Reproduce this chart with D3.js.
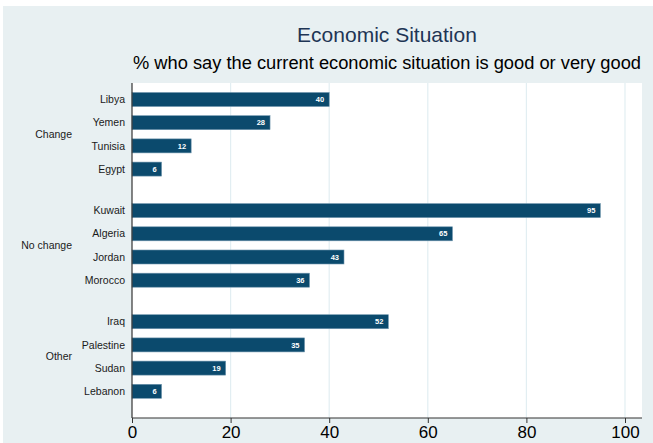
<!DOCTYPE html>
<html>
<head>
<meta charset="utf-8">
<script src="https://cdn.jsdelivr.net/npm/d3@7"></script>
<style>
	body { margin: 0; background: #fff; }
	svg { display: block; font-family: "Liberation Sans", Arial, Helvetica, sans-serif; }
</style>
</head>
<body>
<div id="chart"></div>
<script>
	'use strict';

	// data
	var groups = ['Change', 'No change', 'Other'];
	var countries = [
		['Libya', 'Yemen', 'Tunisia', 'Egypt'],
		['Kuwait', 'Algeria', 'Jordan', 'Morocco'],
		['Iraq', 'Palestine', 'Sudan', 'Lebanon']
	];
	var values = [
		[40, 28, 12, 6],
		[95, 65, 43, 36],
		[52, 35, 19, 6]
	];
	var xTicks = [0, 20, 40, 60, 80, 100];

	var width = 653, height = 443;
	var margin = {top: 83, right: 11, bottom: 25, left: 132};
	var groupGap = 0.79; // extra slots between groups

	var svg = d3.select('#chart')
		.append('svg')
		.attr('width', width)
		.attr('height', height);

	// background
	svg.append('rect')
		.attr('x', 3).attr('y', 6)
		.attr('width', width - 3).attr('height', height - 6)
		.attr('fill', '#e8f0f2');

	var plotW = width - margin.left - margin.right,
		plotH = height - margin.top - margin.bottom;

	svg.append('rect')
		.attr('x', margin.left).attr('y', margin.top)
		.attr('width', plotW).attr('height', plotH)
		.attr('fill', '#fff');

	// flatten rows
	var rows = [];
	countries.forEach(function(list, g) {
		list.forEach(function(name, i) {
			rows.push({group: g, name: name, value: values[g][i], slot: g * (4 + groupGap) + i});
		});
	});
	var lastSlot = rows[rows.length - 1].slot;

	var x = d3.scaleLinear()
		.domain([0, 100])
		.range([margin.left, 625]);

	var y = d3.scaleLinear()
		.domain([0, lastSlot])
		.range([99.5, 391.3]);

	var barH = 14;

	// gridlines
	svg.selectAll('line.grid')
		.data(xTicks.slice(1)).enter()
		.append('line')
			.attr('class', 'grid')
			.attr('x1', function(d) { return x(d); })
			.attr('x2', function(d) { return x(d); })
			.attr('y1', margin.top)
			.attr('y2', margin.top + plotH)
			.attr('stroke', '#e2eef2')
			.attr('stroke-width', 1.2);

	// bars
	svg.selectAll('rect.bar')
		.data(rows).enter()
		.append('rect')
			.attr('class', 'bar')
			.attr('x', x(0))
			.attr('y', function(d) { return y(d.slot) - barH / 2; })
			.attr('width', function(d) { return x(d.value) - x(0); })
			.attr('height', barH)
			.attr('fill', '#0b4a6d')
			.attr('stroke', '#6f95ad')
			.attr('stroke-width', 0.6);

	// value labels
	svg.selectAll('text.val')
		.data(rows).enter()
		.append('text')
			.attr('class', 'val')
			.attr('x', function(d) { return x(d.value) - 5; })
			.attr('y', function(d) { return y(d.slot); })
			.attr('dy', '0.35em')
			.attr('text-anchor', 'end')
			.attr('font-size', 7.5)
			.attr('font-weight', 'bold')
			.attr('fill', '#fff')
			.text(function(d) { return d.value; });

	// country labels
	svg.selectAll('text.cat')
		.data(rows).enter()
		.append('text')
			.attr('class', 'cat')
			.attr('x', 125)
			.attr('y', function(d) { return y(d.slot); })
			.attr('dy', '0.35em')
			.attr('text-anchor', 'end')
			.attr('font-size', 10.5)
			.attr('fill', '#1a1a1a')
			.text(function(d) { return d.name; });

	// group labels
	svg.selectAll('text.grp')
		.data(groups).enter()
		.append('text')
			.attr('class', 'grp')
			.attr('x', 72)
			.attr('y', function(d, g) { return y(g * (4 + groupGap) + 1.5); })
			.attr('dy', '0.35em')
			.attr('text-anchor', 'end')
			.attr('font-size', 10.5)
			.attr('fill', '#1a1a1a')
			.text(function(d) { return d; });

	// axes
	var xAxis = svg.append('g')
		.attr('transform', 'translate(0,' + (margin.top + plotH) + ')')
		.call(d3.axisBottom(x).tickValues(xTicks).tickSize(5).tickPadding(3).tickSizeOuter(0));
	xAxis.select('.domain').remove();
	xAxis.append('line')
		.attr('x1', margin.left).attr('x2', margin.left + plotW)
		.attr('stroke', '#333').attr('stroke-width', 1.2);
	xAxis.selectAll('.tick line').attr('stroke', '#333');
	xAxis.selectAll('.tick text')
		.attr('font-size', 17)
		.attr('font-family', '"Liberation Sans", Arial, sans-serif')
		.attr('fill', '#000');

	svg.append('line')
		.attr('x1', margin.left).attr('x2', margin.left)
		.attr('y1', margin.top).attr('y2', margin.top + plotH)
		.attr('stroke', '#333').attr('stroke-width', 1.2);

	// titles
	var cx = margin.left + plotW / 2;
	svg.append('text')
		.attr('x', cx).attr('y', 42)
		.attr('text-anchor', 'middle')
		.attr('font-size', 21)
		.attr('fill', '#1e3555')
		.text('Economic Situation');

	svg.append('text')
		.attr('x', cx).attr('y', 68.5)
		.attr('text-anchor', 'middle')
		.attr('font-size', 18.3)
		.attr('fill', '#000')
		.text('% who say the current economic situation is good or very good');
</script>
</body>
</html>
